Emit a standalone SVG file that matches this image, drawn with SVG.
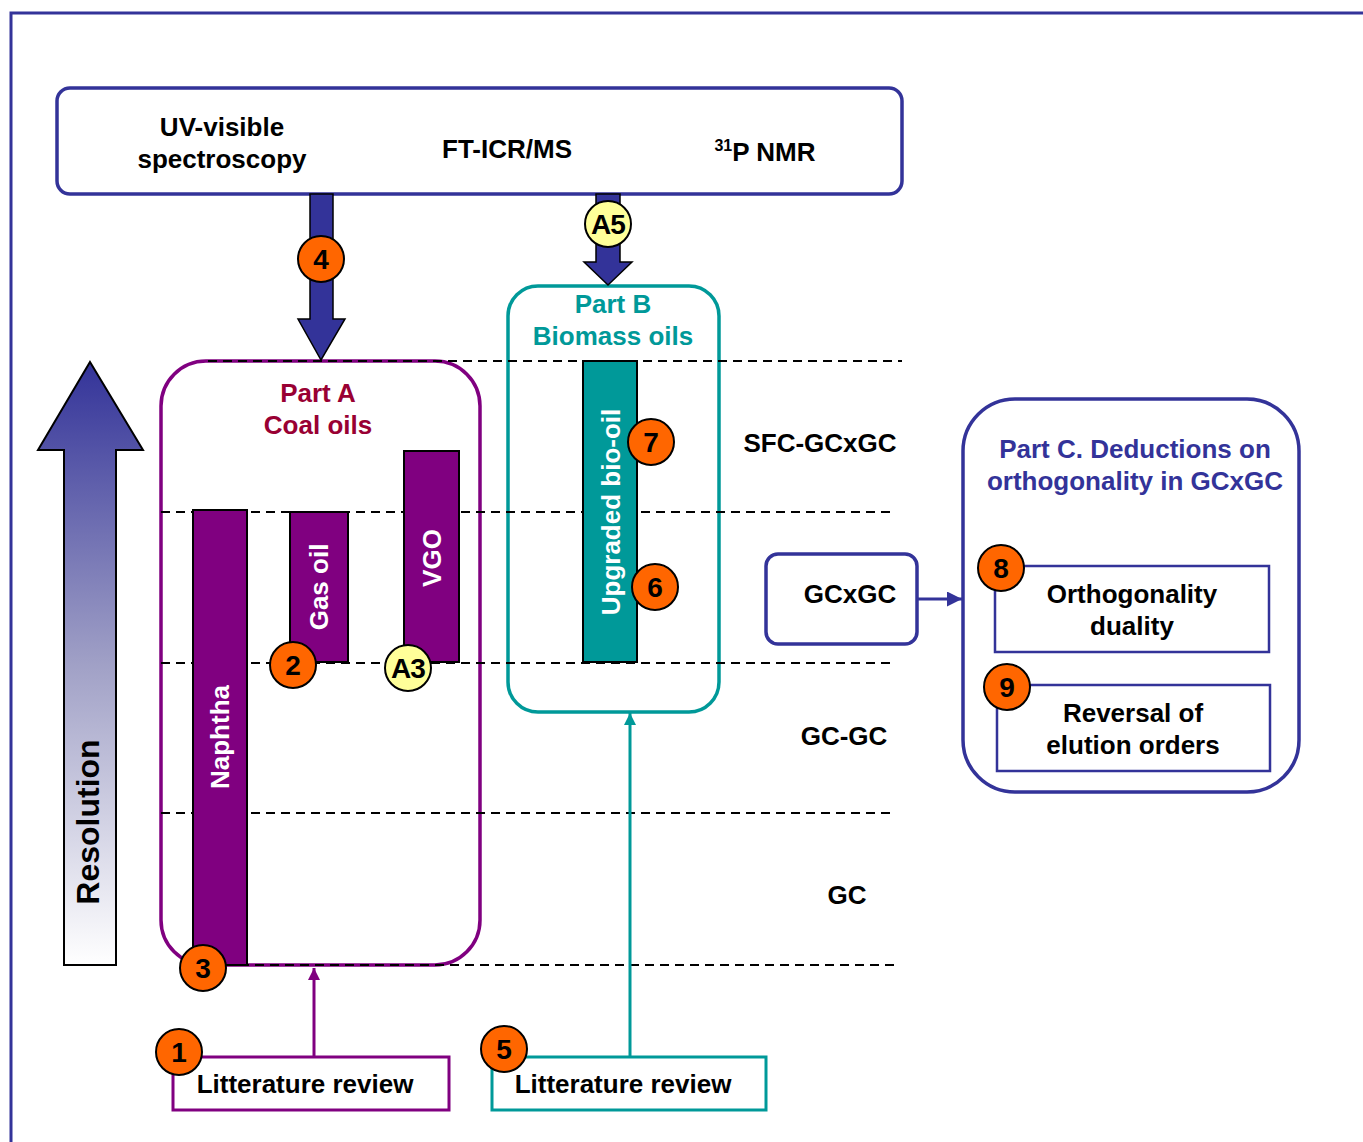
<svg xmlns="http://www.w3.org/2000/svg" width="1363" height="1142" viewBox="0 0 1363 1142">
<defs>
<style>
text{font-family:"Liberation Sans",Arial,sans-serif;font-weight:bold;text-anchor:middle}
.t{font-size:26px;fill:#000}
.dash{stroke:#000;stroke-width:2;stroke-dasharray:9,6;fill:none}
.num{stroke:#000;stroke-width:2}
.o{fill:#FF6600}
.y{fill:#FFFF99}
.nt{font-size:28px;fill:#000}
.bar{stroke:#000;stroke-width:2}
.wt{font-size:26px;fill:#fff}
</style>
<linearGradient id="res" x1="0" y1="0" x2="0" y2="1">
<stop offset="0" stop-color="#333399"/>
<stop offset="0.5" stop-color="#A0A0C6"/>
<stop offset="1" stop-color="#FFFFFF"/>
</linearGradient>
<marker id="mp" viewBox="0 0 10 10" refX="10" refY="5" markerWidth="4" markerHeight="4" orient="auto"><path d="M0,0 L10,5 L0,10 z" fill="#800080"/></marker>
<marker id="mt" viewBox="0 0 10 10" refX="10" refY="5" markerWidth="4" markerHeight="4" orient="auto"><path d="M0,0 L10,5 L0,10 z" fill="#009999"/></marker>
<marker id="mb" viewBox="0 0 10 10" refX="10" refY="5" markerWidth="5" markerHeight="5" orient="auto"><path d="M0,0 L10,5 L0,10 z" fill="#333399"/></marker>
</defs>
<rect width="1363" height="1142" fill="#fff"/>
<rect x="11" y="13" width="1400" height="1200" fill="none" stroke="#333399" stroke-width="3"/>

<g id="partA">
<rect x="161" y="361" width="319" height="604" rx="45" fill="none" stroke="#800080" stroke-width="3.5"/>
<text x="318" y="402" style="font-size:26px" fill="#990033">Part A</text>
<text x="318" y="434" style="font-size:26px" fill="#990033">Coal oils</text>
</g>

<g id="partB">
<rect x="508" y="286" width="211" height="426" rx="30" fill="none" stroke="#009999" stroke-width="3.5"/>
<text x="613" y="313" style="font-size:26px" fill="#009999">Part B</text>
<text x="613" y="345" style="font-size:26px" fill="#009999">Biomass oils</text>
</g>

<g id="levels">
<line class="dash" x1="208" y1="361" x2="902" y2="361"/>
<line class="dash" x1="161" y1="512" x2="895" y2="512"/>
<line class="dash" x1="161" y1="663" x2="895" y2="663"/>
<line class="dash" x1="161" y1="813" x2="895" y2="813"/>
<line class="dash" x1="225" y1="965" x2="900" y2="965"/>
<text class="t" x="820" y="452">SFC-GCxGC</text>
<text class="t" x="844" y="745">GC-GC</text>
<text class="t" x="847" y="904">GC</text>
</g>

<g id="resolution">
<polygon points="90,362 143,450 116,450 116,965 64,965 64,450 38,450" fill="url(#res)" stroke="#000" stroke-width="2"/>
<text transform="translate(99,822) rotate(-90)" style="font-size:32px" fill="#000">Resolution</text>
</g>

<g id="techniques">
<rect x="57" y="88" width="845" height="106" rx="13" fill="#fff" stroke="#333399" stroke-width="3.5"/>
<text class="t" x="222" y="136">UV-visible</text>
<text class="t" x="222" y="168">spectroscopy</text>
<text class="t" x="507" y="158">FT-ICR/MS</text>
<text class="t" x="765" y="161"><tspan style="font-size:16px" dy="-10">31</tspan><tspan dy="10">P NMR</tspan></text>
</g>

<g id="naphtha">
<rect class="bar" x="193" y="510" width="54" height="455" fill="#800080"/>
<text class="wt" transform="translate(229,737) rotate(-90)">Naphtha</text>
</g>
<g id="gasoil">
<rect class="bar" x="290" y="512" width="58" height="150" fill="#800080"/>
<text class="wt" transform="translate(328,587) rotate(-90)">Gas oil</text>
</g>
<g id="vgo">
<rect class="bar" x="404" y="451" width="55" height="211" fill="#800080"/>
<text class="wt" transform="translate(441,558) rotate(-90)">VGO</text>
</g>

<g id="biooil">
<rect class="bar" x="583" y="361" width="54" height="301" fill="#009999"/>
<text class="wt" transform="translate(620,512) rotate(-90)">Upgraded bio-oil</text>
</g>

<g id="gcxgc">
<rect x="766" y="554" width="151" height="90" rx="12" fill="#fff" stroke="#333399" stroke-width="3.5"/>
<text class="t" x="850" y="603">GCxGC</text>
</g>

<g id="partC">
<rect x="963" y="399" width="336" height="393" rx="52" fill="none" stroke="#333399" stroke-width="3.5"/>
<text x="1135" y="458" style="font-size:26px" fill="#333399">Part C. Deductions on</text>
<text x="1135" y="490" style="font-size:26px" fill="#333399">orthogonality in GCxGC</text>
</g>
<g id="ortho">
<rect x="995" y="566" width="274" height="86" fill="#fff" stroke="#333399" stroke-width="2.5"/>
<text class="t" x="1132" y="603">Orthogonality</text>
<text class="t" x="1132" y="635">duality</text>
</g>
<g id="reversal">
<rect x="997" y="685" width="273" height="86" fill="#fff" stroke="#333399" stroke-width="2.5"/>
<text class="t" x="1133" y="722">Reversal of</text>
<text class="t" x="1133" y="754">elution orders</text>
</g>

<g id="litA">
<rect x="173" y="1057" width="276" height="53" fill="#fff" stroke="#800080" stroke-width="3"/>
<text class="t" x="305" y="1093">Litterature review</text>
</g>
<g id="litB">
<rect x="492" y="1057" width="274" height="53" fill="#fff" stroke="#009999" stroke-width="3"/>
<text class="t" x="623" y="1093">Litterature review</text>
</g>

<g id="connectors">
<polygon points="310,194 333,194 333,319 345,319 321,360 298,319 310,319" fill="#333399" stroke="#000" stroke-width="1.5"/>
<polygon points="596,194 620,194 620,262 632,262 608,285 584,262 596,262" fill="#333399" stroke="#000" stroke-width="1.5"/>
<line x1="314" y1="1057" x2="314" y2="968" stroke="#800080" stroke-width="3" marker-end="url(#mp)"/>
<line x1="630" y1="1057" x2="630" y2="713" stroke="#009999" stroke-width="3" marker-end="url(#mt)"/>
<line x1="917" y1="599" x2="962" y2="599" stroke="#333399" stroke-width="3" marker-end="url(#mb)"/>
</g>

<g id="badges">
<circle class="num o" cx="321" cy="259" r="23"/><text class="nt" x="321" y="269">4</text>
<circle class="num y" cx="608" cy="224" r="23"/><text class="nt" x="608" y="234" style="letter-spacing:-1px">A5</text>
<circle class="num o" cx="293" cy="665" r="23"/><text class="nt" x="293" y="675">2</text>
<circle class="num y" cx="408" cy="668" r="23"/><text class="nt" x="408" y="678" style="letter-spacing:-1px">A3</text>
<circle class="num o" cx="203" cy="968" r="23"/><text class="nt" x="203" y="978">3</text>
<circle class="num o" cx="651" cy="442" r="23"/><text class="nt" x="651" y="452">7</text>
<circle class="num o" cx="655" cy="587" r="23"/><text class="nt" x="655" y="597">6</text>
<circle class="num o" cx="1001" cy="568" r="23"/><text class="nt" x="1001" y="578">8</text>
<circle class="num o" cx="1007" cy="687" r="23"/><text class="nt" x="1007" y="697">9</text>
<circle class="num o" cx="179" cy="1052" r="23"/><text class="nt" x="179" y="1062">1</text>
<circle class="num o" cx="504" cy="1049" r="23"/><text class="nt" x="504" y="1059">5</text>
</g>
</svg>
